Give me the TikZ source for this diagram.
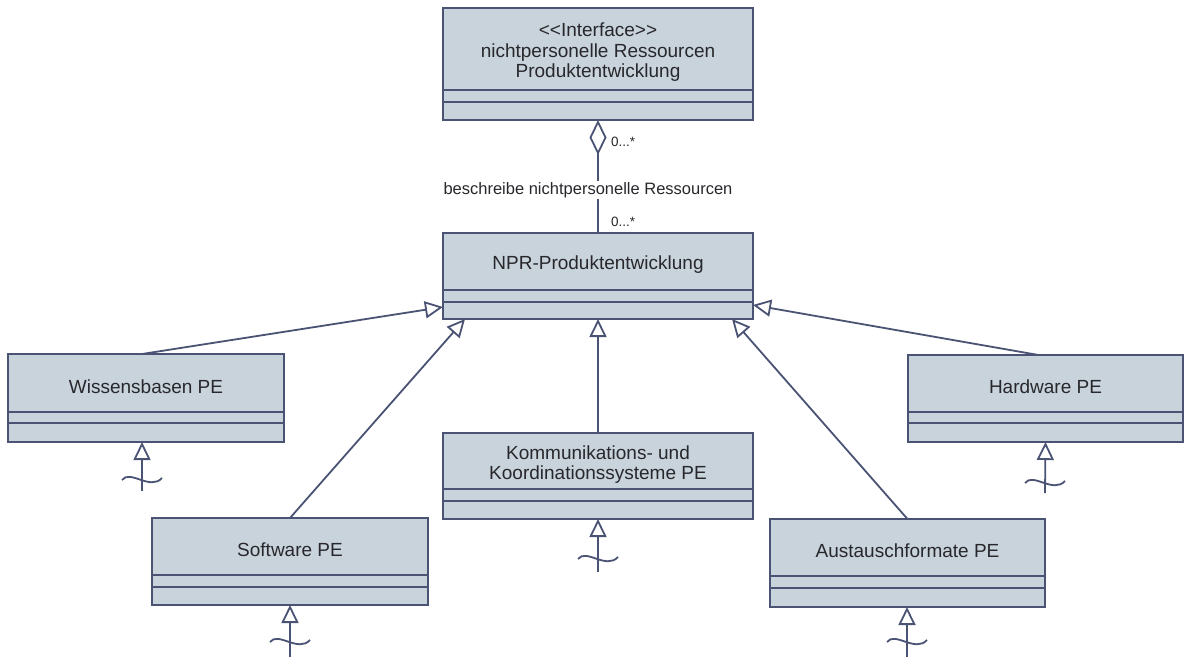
\documentclass[tikz,border=0pt]{standalone}
\usepackage{fontspec}
\setmainfont{Liberation Sans}
\usetikzlibrary{arrows.meta}

\definecolor{umlline}{RGB}{74,83,116}
\definecolor{umlfill}{RGB}{200,211,220}
\definecolor{umltext}{RGB}{40,40,44}

\tikzset{
  classbox/.style={draw=umlline, fill=umlfill, line width=2pt, inner sep=0pt, outer sep=0pt, rectangle},
  classtext/.style={text=umltext, font=\fontsize{19}{20.5}\selectfont, align=center, inner sep=0pt},
  edge/.style={draw=umlline, line width=1.8pt},
  gen/.style={edge, -{Triangle[open, length=18pt, width=17pt, line width=1.8pt]}},
  agg/.style={edge, {Diamond[open, length=35pt, width=17pt, line width=1.8pt]}-},
  assoclabel/.style={text=umltext, font=\fontsize{16.5}{18}\selectfont, fill=white, inner sep=1pt},
  multlabel/.style={text=umltext, font=\fontsize{13.5}{15}\selectfont, inner sep=0pt, anchor=west},
  wave/.style={draw=umlline, line width=1.8pt},
}

% class box: name, x1, y1, x2, y2, first divider, second divider, title
\newcommand\umlclass[8]{%
  \node[classbox, minimum width={#4-#2}, minimum height={#5-#3}] (#1) at ({(#2+#4)/2},{(#3+#5)/2}) {};
  \draw[edge, line width=2pt] (#2,#6) -- (#4,#6) (#2,#7) -- (#4,#7);
  \node[classtext] (#1-title) at ({(#2+#4)/2},{(#3+#6)/2+3.5}) {#8};
}

% realization stub below a class: start coordinate, target anchor, x, wave y
\newcommand\umlstub[4]{%
  \draw[gen] (#1) -- (#2);
  \draw[wave] (#3-20,#4+1) .. controls (#3-12,#4-10) and (#3+8,#4+12) .. (#3+20,#4-1);
}

\begin{document}
\begin{tikzpicture}[x=1pt, y=-1pt]
  \useasboundingbox (0,0) rectangle (1186,657);
  \fill[white] (0,0) rectangle (1186,657);

  % classes
  \umlclass{iface}{443}{8}{753}{120}{90}{102}{{<}{<}Interface{>}{>}\\nichtpersonelle Ressourcen\\Produktentwicklung}
  \umlclass{npr}{443}{233}{753}{319}{290}{302}{NPR-Produktentwicklung}
  \umlclass{wiss}{8}{354}{284}{442}{412}{423}{Wissensbasen PE}
  \umlclass{hard}{908}{355}{1183}{442}{412}{423}{Hardware PE}
  \umlclass{komm}{443}{433}{753}{519}{489}{501}{Kommunikations- und\\Koordinationssysteme PE}
  \umlclass{soft}{152}{518}{428}{605}{575}{587}{Software PE}
  \umlclass{aust}{770}{519}{1045}{607}{576}{588}{Austauschformate PE}

  % aggregation between interface and NPR
  \draw[agg] (iface.south) -- (npr.north)
    node[assoclabel, pos=0.62, xshift=-10pt] (assoc) {beschreibe nichtpersonelle Ressourcen};
  \node[multlabel] (m1) at (611,142) {0...*};
  \node[multlabel] (m2) at (611,222) {0...*};

  % generalizations towards NPR
  \draw[gen] ([xshift=-4pt]wiss.north) -- ([yshift=12pt]npr.south west);
  \draw[gen] (soft.north) -- ([xshift=22pt]npr.south west);
  \draw[gen] (komm.north) -- (npr.south);
  \draw[gen] (aust.north) -- ([xshift=-21pt]npr.south east);
  \draw[gen] ([xshift=-7pt]hard.north) -- ([yshift=14pt]npr.south east);

  % realization stubs
  \coordinate (wiss-r) at (142,491);
  \coordinate (soft-r) at (290,657);
  \coordinate (komm-r) at (598,572);
  \coordinate (aust-r) at (907,657);
  \coordinate (hard-r) at (1045,493);
  \umlstub{wiss-r}{[xshift=-4pt]wiss.south}{142}{479}
  \umlstub{soft-r}{soft.south}{290}{641}
  \umlstub{komm-r}{komm.south}{598}{558}
  \umlstub{aust-r}{[xshift=-0.5pt]aust.south}{907}{641}
  \umlstub{hard-r}{hard.south}{1045}{482}
\end{tikzpicture}
\end{document}
